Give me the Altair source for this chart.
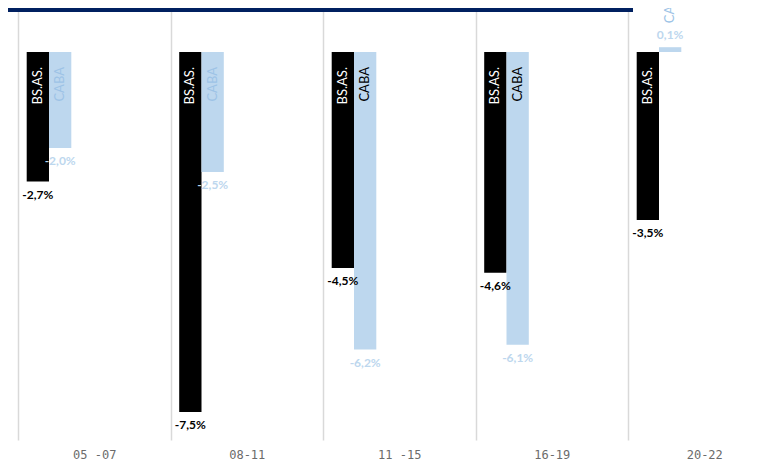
import altair as alt
import pandas as pd

categories = ["05 -07", "08-11", "11 -15", "16-19", "20-22"]
series = ["BS.AS.", "CABA"]
bsas = [-2.7, -7.5, -4.5, -4.6, -3.5]
caba = [-2.0, -2.5, -6.2, -6.1, 0.1]

rows = []
for i, c in enumerate(categories):
    for s, vals in zip(series, [bsas, caba]):
        v = vals[i]
        rows.append({"cat": c, "serie": s, "value": v,
                     "label": f"{v:.1f}%".replace(".", ",")})
df = pd.DataFrame(rows)

BLACK = "#000000"
LIGHT = "#BDD7EE"
LIGHT_TXT = "#9DC3E6"

x = alt.X("cat:N", sort=categories,
          scale=alt.Scale(domain=categories, range=[0, 762.5], paddingInner=0, paddingOuter=0),
          axis=alt.Axis(title=None, labelAngle=0, ticks=False, domain=False, grid=True,
                        tickBand="extent", gridColor="#D9D9D9", gridWidth=1.5,
                        labelFont="DejaVu Sans Mono", labelFontSize=12, labelColor="#6B6B6B",
                        labelPadding=9))
xo = alt.XOffset("serie:N", sort=series,
                 scale=alt.Scale(domain=series, range=[8.7, 53.3], paddingInner=0, paddingOuter=0))
yscale = alt.Scale(domain=[-8.0833, 0.9167], nice=False, zero=False)
y = alt.Y("value:Q", scale=yscale, axis=None)

base = alt.Chart(df)

bars = base.mark_bar().encode(
    x=x, xOffset=xo, y=y, y2=alt.datum(0),
    color=alt.Color("serie:N", scale=alt.Scale(domain=series, range=[BLACK, LIGHT]), legend=None),
)

val_color = alt.Color("serie:N", scale=alt.Scale(domain=series, range=[BLACK, LIGHT_TXT]), legend=None)

val_neg = base.transform_filter("datum.value < 0").mark_text(
    font="Lato", fontSize=12, fontWeight="bold", baseline="middle", dy=13
).encode(x=x, xOffset=xo, y=y, text="label:N", color=val_color)

val_pos = base.transform_filter("datum.value > 0").mark_text(
    font="Lato", fontSize=12, fontWeight="bold", baseline="middle", dy=-12
).encode(x=x, xOffset=xo, y=y, text="label:N", color=val_color)

name_neg = base.transform_filter("datum.value < 0").transform_calculate(
    zero="0",
    nc=("datum.serie == 'BS.AS.' ? '#FFFFFF' : "
        "((datum.cat == '11 -15' || datum.cat == '16-19') ? '#000000' : '" + LIGHT_TXT + "')"),
).mark_text(
    font="Lato", fontSize=13, angle=270, align="right", baseline="middle", dx=-15
).encode(
    x=x, xOffset=xo, y=alt.Y("zero:Q", scale=yscale, axis=None),
    text="serie:N",
    color=alt.Color("nc:N", scale=None, legend=None),
)

name_pos = base.transform_filter("datum.value > 0").mark_text(
    font="Lato", fontSize=13, angle=270, align="left", baseline="middle", dx=24, color=LIGHT_TXT
).encode(x=x, xOffset=xo, y=y, text="serie:N")

topbar = alt.Chart(pd.DataFrame({"a": [0]})).mark_rule(color="#002060", strokeWidth=4).encode(
    x=alt.value(-10), x2=alt.value(615), y=alt.value(2)
)

chart = alt.layer(bars, val_neg, val_pos, name_neg, name_pos, topbar).properties(
    width=752, height=432,
    autosize=alt.AutoSizeParams(type="none"),
    padding={"left": 10, "top": 0, "right": 0, "bottom": 25},
).configure_view(stroke=None)

chart.save("out.html", embed_options={"renderer": "svg", "actions": False})
